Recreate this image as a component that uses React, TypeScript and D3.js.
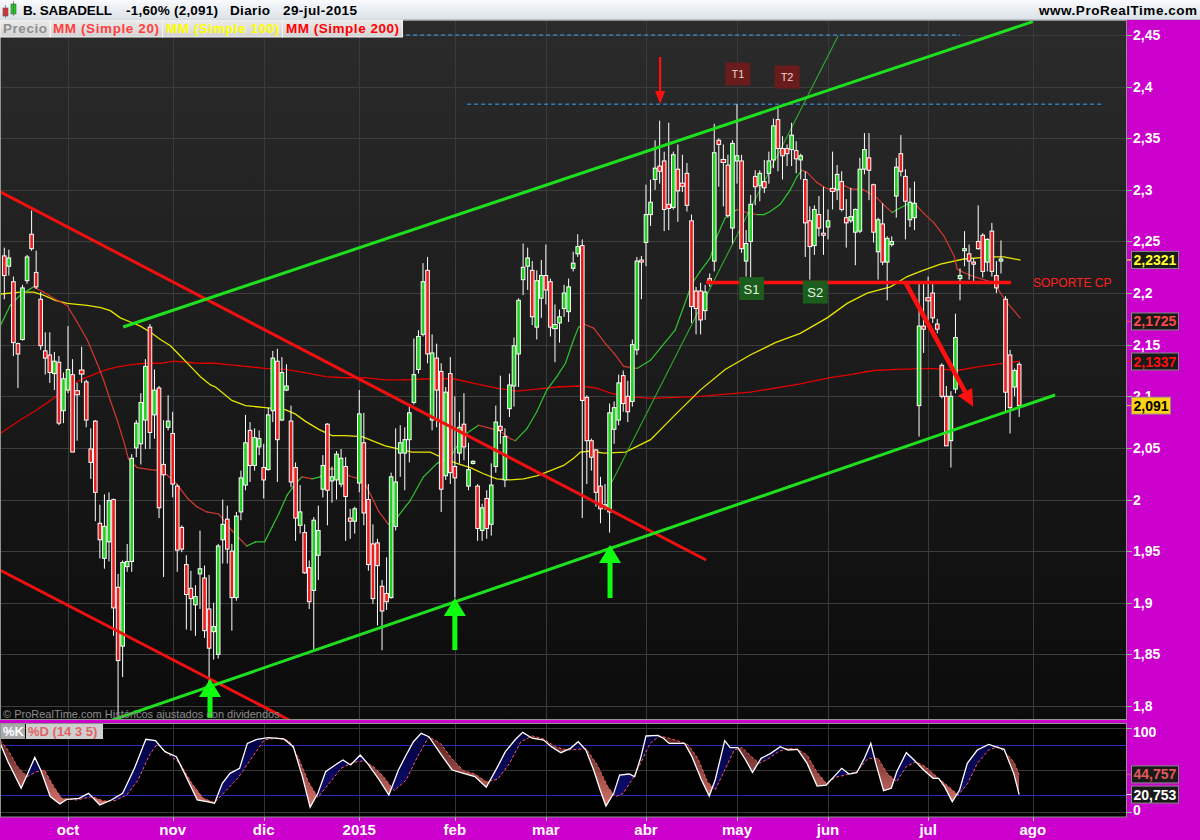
import React from 'react';
import * as d3 from 'd3';

// ---------- calendar ----------
const START_DATE = '2014-09-11';
const MARKET_HOLIDAYS = ['2014-12-25', '2014-12-26', '2015-01-01', '2015-04-03', '2015-04-06', '2015-05-01'];
const CANDLE_COUNT = 224;
const FUTURE_DAYS = 3;
const MONTH_NAMES = ['ene', 'feb', 'mar', 'abr', 'may', 'jun', 'jul', 'ago', 'sep', 'oct', 'nov', 'dic'];

// ---------- price data (B. Sabadell, daily) ----------
const OPEN = [
  2.236, 2.226, 2.211, 2.151, 2.155, 2.212, 2.257, 2.220, 2.194, 2.144,
  2.140, 2.122, 2.133, 2.086, 2.106, 2.121, 2.104, 2.124, 2.114, 2.049,
  2.076, 1.977, 1.943, 1.959, 2.000, 1.915, 1.858, 1.935, 1.940, 2.050,
  2.054, 2.077, 2.167, 2.082, 2.108, 2.034, 2.070, 2.064, 2.013, 1.973,
  1.937, 1.914, 1.898, 1.928, 1.924, 1.894, 1.872, 1.850, 1.961, 1.981,
  1.950, 1.905, 1.988, 2.014, 2.067, 2.033, 2.051, 2.031, 2.029, 2.086,
  2.134, 2.077, 2.106, 2.076, 2.031, 1.975, 1.968, 1.934, 1.912, 1.946,
  2.010, 2.073, 2.018, 2.019, 2.015, 2.032, 1.982, 1.979, 2.016, 2.055,
  2.000, 1.957, 1.958, 1.916, 1.909, 1.905, 1.974, 2.045, 2.045, 2.058,
  2.094, 2.126, 2.160, 2.222, 2.077, 2.137, 2.124, 2.023, 2.122, 2.032,
  2.045, 2.073, 2.013, 2.035, 2.013, 1.970, 2.001, 1.976, 2.032, 2.071,
  2.019, 2.088, 2.110, 2.141, 2.213, 2.226, 2.222, 2.167, 2.195, 2.217,
  2.211, 2.167, 2.171, 2.185, 2.182, 2.224, 2.238, 2.246, 2.099, 2.057,
  2.048, 2.013, 1.993, 1.988, 2.068, 2.077, 2.120, 2.100, 2.095, 2.145,
  2.232, 2.249, 2.276, 2.310, 2.323, 2.328, 2.286, 2.283, 2.320, 2.305,
  2.316, 2.270, 2.202, 2.202, 2.183, 2.214, 2.231, 2.348, 2.328, 2.324,
  2.263, 2.328, 2.328, 2.231, 2.250, 2.313, 2.304, 2.308, 2.316, 2.329,
  2.368, 2.340, 2.340, 2.339, 2.338, 2.329, 2.310, 2.270, 2.246, 2.276,
  2.258, 2.264, 2.300, 2.300, 2.308, 2.273, 2.270, 2.259, 2.260, 2.320,
  2.331, 2.305, 2.240, 2.267, 2.230, 2.247, 2.294, 2.335, 2.313, 2.271,
  2.273, 2.091, 2.168, 2.194, 2.200, 2.170, 2.130, 2.100, 2.057, 2.107,
  2.214, 2.241, 2.238, 2.230, 2.250, 2.256, 2.230, 2.260, 2.217, 2.231,
  2.194, 2.140, 2.109, 2.131,
];
const HIGH = [
  2.244, 2.242, 2.216, 2.152, 2.208, 2.237, 2.280, 2.241, 2.201, 2.162,
  2.162, 2.143, 2.139, 2.123, 2.168, 2.136, 2.113, 2.148, 2.116, 2.069,
  2.077, 1.995, 2.005, 2.007, 2.001, 1.928, 1.941, 1.957, 2.044, 2.077,
  2.103, 2.136, 2.170, 2.126, 2.110, 2.077, 2.101, 2.085, 2.015, 1.975,
  1.946, 1.931, 1.917, 1.970, 1.936, 1.927, 1.900, 1.957, 2.000, 1.994,
  1.957, 1.988, 2.028, 2.082, 2.075, 2.069, 2.067, 2.054, 2.089, 2.144,
  2.146, 2.138, 2.131, 2.091, 2.036, 2.014, 1.976, 1.941, 1.983, 1.994,
  2.043, 2.074, 2.032, 2.047, 2.049, 2.041, 1.991, 1.993, 2.106, 2.084,
  2.015, 1.976, 1.962, 1.922, 1.944, 2.026, 2.069, 2.072, 2.070, 2.091,
  2.156, 2.164, 2.229, 2.235, 2.160, 2.151, 2.132, 2.109, 2.138, 2.100,
  2.085, 2.103, 2.055, 2.038, 2.015, 1.996, 2.009, 2.035, 2.091, 2.120,
  2.069, 2.122, 2.157, 2.195, 2.248, 2.244, 2.231, 2.222, 2.232, 2.247,
  2.214, 2.189, 2.184, 2.208, 2.214, 2.240, 2.257, 2.252, 2.101, 2.059,
  2.049, 2.022, 2.015, 2.093, 2.095, 2.121, 2.125, 2.115, 2.155, 2.235,
  2.236, 2.305, 2.310, 2.348, 2.367, 2.337, 2.365, 2.337, 2.344, 2.334,
  2.326, 2.276, 2.206, 2.210, 2.208, 2.219, 2.364, 2.350, 2.344, 2.334,
  2.348, 2.383, 2.334, 2.261, 2.295, 2.319, 2.319, 2.329, 2.337, 2.369,
  2.379, 2.352, 2.344, 2.365, 2.347, 2.335, 2.318, 2.284, 2.285, 2.294,
  2.303, 2.281, 2.337, 2.324, 2.318, 2.291, 2.302, 2.282, 2.331, 2.355,
  2.355, 2.306, 2.273, 2.287, 2.255, 2.255, 2.331, 2.353, 2.320, 2.302,
  2.308, 2.210, 2.210, 2.216, 2.209, 2.175, 2.132, 2.110, 2.105, 2.180,
  2.224, 2.260, 2.247, 2.234, 2.285, 2.258, 2.253, 2.268, 2.231, 2.251,
  2.197, 2.145, 2.127, 2.133,
];
const LOW = [
  2.194, 2.217, 2.139, 2.108, 2.154, 2.209, 2.241, 2.204, 2.145, 2.121,
  2.113, 2.106, 2.072, 2.074, 2.103, 2.046, 2.057, 2.113, 2.070, 2.020,
  1.979, 1.943, 1.933, 1.940, 1.868, 1.789, 1.828, 1.930, 1.930, 2.041,
  2.034, 2.049, 2.049, 2.059, 1.982, 1.925, 2.067, 2.002, 1.930, 1.949,
  1.874, 1.873, 1.868, 1.894, 1.866, 1.822, 1.845, 1.846, 1.938, 1.938,
  1.873, 1.902, 1.980, 2.009, 2.017, 2.028, 2.043, 2.001, 2.028, 2.075,
  2.017, 2.076, 2.105, 2.012, 1.960, 1.967, 1.928, 1.894, 1.855, 1.922,
  2.002, 1.975, 1.997, 2.000, 2.012, 1.960, 1.962, 1.967, 2.007, 1.975,
  1.931, 1.899, 1.878, 1.854, 1.893, 1.904, 1.970, 2.022, 2.009, 2.036,
  2.092, 2.122, 2.158, 2.132, 2.067, 2.070, 1.988, 2.019, 2.015, 1.905,
  2.035, 2.038, 2.009, 2.034, 1.960, 1.960, 1.962, 1.965, 2.026, 2.054,
  2.012, 2.080, 2.090, 2.109, 2.198, 2.203, 2.169, 2.155, 2.176, 2.189,
  2.158, 2.133, 2.152, 2.177, 2.172, 2.221, 2.235, 1.982, 2.015, 2.028,
  1.993, 1.977, 1.990, 1.968, 2.054, 2.072, 2.085, 2.075, 2.090, 2.140,
  2.194, 2.226, 2.265, 2.300, 2.306, 2.260, 2.261, 2.281, 2.269, 2.298,
  2.279, 2.171, 2.160, 2.160, 2.174, 2.206, 2.221, 2.303, 2.284, 2.273,
  2.248, 2.306, 2.239, 2.216, 2.213, 2.285, 2.289, 2.297, 2.306, 2.321,
  2.318, 2.310, 2.323, 2.323, 2.316, 2.310, 2.235, 2.213, 2.237, 2.255,
  2.237, 2.252, 2.281, 2.290, 2.279, 2.244, 2.268, 2.227, 2.258, 2.315,
  2.290, 2.249, 2.213, 2.227, 2.193, 2.245, 2.273, 2.313, 2.252, 2.264,
  2.261, 2.061, 2.142, 2.172, 2.171, 2.161, 2.098, 2.052, 2.031, 2.103,
  2.193, 2.226, 2.213, 2.211, 2.242, 2.215, 2.221, 2.216, 2.200, 2.219,
  2.084, 2.064, 2.100, 2.080,
];
const CLOSE = [
  2.217, 2.234, 2.152, 2.141, 2.205, 2.235, 2.243, 2.206, 2.149, 2.137,
  2.123, 2.134, 2.074, 2.117, 2.126, 2.046, 2.103, 2.123, 2.077, 2.036,
  2.007, 1.961, 1.974, 1.999, 1.895, 1.844, 1.939, 1.940, 2.040, 2.074,
  2.094, 2.129, 2.065, 2.106, 1.992, 2.024, 2.076, 2.015, 1.951, 1.952,
  1.908, 1.904, 1.906, 1.933, 1.873, 1.856, 1.877, 1.955, 1.976, 1.952,
  1.905, 1.984, 2.021, 2.055, 2.033, 2.060, 2.059, 2.019, 2.082, 2.137,
  2.058, 2.123, 2.110, 2.017, 1.982, 1.988, 1.929, 1.901, 1.980, 1.970,
  2.033, 2.009, 2.022, 2.044, 2.040, 2.003, 1.979, 1.991, 2.083, 1.987,
  1.937, 1.904, 1.936, 1.892, 1.901, 2.022, 2.017, 2.055, 2.058, 2.084,
  2.121, 2.158, 2.211, 2.141, 2.142, 2.106, 2.010, 2.104, 2.026, 2.021,
  2.070, 2.051, 2.029, 2.037, 1.972, 1.992, 1.972, 2.014, 2.075, 2.067,
  2.061, 2.111, 2.149, 2.193, 2.225, 2.234, 2.177, 2.212, 2.217, 2.203,
  2.167, 2.168, 2.177, 2.200, 2.206, 2.229, 2.245, 2.096, 2.057, 2.041,
  2.007, 1.991, 1.995, 2.084, 2.089, 2.113, 2.093, 2.085, 2.150, 2.231,
  2.230, 2.276, 2.288, 2.321, 2.318, 2.281, 2.282, 2.334, 2.299, 2.305,
  2.285, 2.187, 2.185, 2.174, 2.201, 2.210, 2.336, 2.344, 2.328, 2.275,
  2.345, 2.333, 2.243, 2.248, 2.286, 2.303, 2.316, 2.302, 2.328, 2.362,
  2.340, 2.333, 2.335, 2.353, 2.330, 2.333, 2.268, 2.245, 2.281, 2.263,
  2.256, 2.270, 2.300, 2.315, 2.281, 2.268, 2.274, 2.281, 2.320, 2.339,
  2.319, 2.259, 2.271, 2.230, 2.253, 2.250, 2.322, 2.318, 2.289, 2.288,
  2.287, 2.168, 2.165, 2.194, 2.176, 2.165, 2.100, 2.052, 2.100, 2.157,
  2.217, 2.243, 2.231, 2.228, 2.243, 2.221, 2.252, 2.221, 2.205, 2.233,
  2.104, 2.089, 2.125, 2.091,
];

// ---------- moving averages (candle number, value) ----------
const MA20_N = [0.1, 2.3, 4.5, 7.4, 9.6, 12.2, 14.8, 17, 19.2, 21.4, 22.8, 24.3, 25.8, 27.2, 28.3, 30.2, 33.1, 35.3, 36.7, 38.9, 41.1, 43.3, 45.5, 48.1, 51, 53.2, 54.3, 56.2, 58.2, 59.8, 61.3, 63.1, 64.9, 66.4, 68.6, 70.4, 71.5, 73, 75.2, 76.7, 78.9, 80.3, 81.8, 83.2, 85.4, 86.9, 89.1, 90.2, 93.1, 96.1, 99, 101.9, 105.2, 107.8, 110, 112.2, 113.3, 115.9, 118, 120.2, 122.4, 124.3, 126.1, 127.2, 128.3, 130.5, 133.1, 134.9, 137.1, 140, 143, 148.4, 152.1, 153.9, 156.1, 157.6, 159.4, 162, 164.2, 166.4, 167.9, 169.3, 171.5, 173.7, 175.2, 176.3, 177.4, 179.6, 181.4, 183.2, 184.7, 186.9, 189.8, 192.8, 194.6, 196.1, 197.2, 199.4, 201.2, 203.1, 205.3, 207.5, 209.7, 210.4, 211.8, 214, 216.2, 218.4, 219.9, 221.3, 224.2];
const MA20_V = [2.168, 2.188, 2.198, 2.206, 2.201, 2.194, 2.188, 2.172, 2.155, 2.132, 2.116, 2.096, 2.077, 2.057, 2.039, 2.031, 2.029, 2.028, 2.024, 2.015, 2.002, 1.993, 1.988, 1.986, 1.970, 1.960, 1.955, 1.959, 1.959, 1.973, 1.986, 2.004, 2.015, 2.022, 2.020, 2.022, 2.028, 2.030, 2.028, 2.023, 2.020, 2.015, 2.002, 1.989, 1.976, 1.980, 1.993, 1.999, 2.022, 2.035, 2.041, 2.062, 2.072, 2.069, 2.066, 2.059, 2.057, 2.069, 2.085, 2.106, 2.119, 2.132, 2.155, 2.167, 2.170, 2.166, 2.151, 2.142, 2.129, 2.127, 2.135, 2.164, 2.209, 2.221, 2.234, 2.255, 2.273, 2.281, 2.278, 2.276, 2.276, 2.279, 2.286, 2.300, 2.313, 2.319, 2.317, 2.307, 2.302, 2.299, 2.306, 2.301, 2.300, 2.292, 2.284, 2.278, 2.281, 2.286, 2.286, 2.277, 2.268, 2.255, 2.236, 2.223, 2.220, 2.216, 2.213, 2.210, 2.200, 2.191, 2.176];
const MA100_N = [0.1, 4.5, 7.4, 9.6, 12.2, 14.8, 19.2, 22.2, 24.3, 26.5, 28.7, 30.9, 33.1, 35.3, 37.5, 39.7, 41.9, 44.1, 46.3, 47.4, 51, 54, 58.3, 62.7, 64.9, 67.1, 70.1, 73, 75.9, 79.6, 81.8, 84.7, 87.6, 90.6, 94.6, 97.5, 100.4, 103.4, 106.3, 109.2, 112.2, 115.1, 118, 121, 123.9, 126.1, 127.6, 129.8, 132.7, 137.5, 143, 148.4, 153.9, 159.4, 164.9, 170.4, 175.9, 181.8, 186.2, 190.6, 195.7, 199.4, 202.3, 206.7, 211.8, 217.7, 220.6, 224.3];
const MA100_V = [2.199, 2.201, 2.201, 2.198, 2.193, 2.190, 2.188, 2.186, 2.183, 2.176, 2.172, 2.168, 2.162, 2.155, 2.149, 2.139, 2.129, 2.119, 2.111, 2.109, 2.096, 2.091, 2.089, 2.087, 2.083, 2.076, 2.068, 2.062, 2.062, 2.061, 2.057, 2.052, 2.049, 2.046, 2.046, 2.040, 2.035, 2.031, 2.025, 2.020, 2.019, 2.020, 2.023, 2.028, 2.033, 2.040, 2.046, 2.047, 2.045, 2.046, 2.058, 2.082, 2.106, 2.126, 2.140, 2.152, 2.161, 2.176, 2.190, 2.200, 2.206, 2.216, 2.221, 2.228, 2.233, 2.235, 2.235, 2.232];
const MA200_N = [0.1, 4.5, 8.2, 11.8, 14.8, 17.7, 20.6, 23.6, 26.5, 29.4, 32.4, 35.3, 38.2, 41.1, 44.1, 47.4, 49.6, 54, 58.3, 62.7, 67.1, 71.5, 75.9, 80.3, 84.7, 89.1, 94.6, 99.7, 104.8, 109.2, 113.6, 118, 122.4, 127.6, 131.2, 134.2, 137.5, 143, 153.9, 164.9, 175.9, 182.5, 186.9, 192, 197.2, 204.5, 210.4, 215.5, 220.6, 224.2];
const MA200_V = [2.064, 2.077, 2.087, 2.098, 2.108, 2.116, 2.121, 2.126, 2.129, 2.131, 2.132, 2.132, 2.134, 2.133, 2.132, 2.132, 2.131, 2.129, 2.127, 2.126, 2.123, 2.119, 2.118, 2.118, 2.116, 2.116, 2.117, 2.117, 2.112, 2.108, 2.105, 2.107, 2.109, 2.110, 2.108, 2.103, 2.100, 2.098, 2.100, 2.104, 2.112, 2.118, 2.121, 2.125, 2.126, 2.127, 2.125, 2.129, 2.132, 2.134];

// ---------- stochastic %K %D (14 3 5) ----------
const STOCH_K_N = [0.1, 1.8, 4.7, 6.0, 7.7, 9.0, 11.1, 13.2, 14.8, 17.4, 19.5, 22, 24.5, 27, 29.6, 32.1, 34.2, 36.3, 38.8, 41.3, 43.4, 45.5, 47.2, 48.9, 50.6, 52.7, 54.4, 56.5, 59, 62.4, 64.5, 66.5, 68.2, 69.9, 71.6, 73.7, 75.4, 77.1, 79.2, 80.8, 83.4, 85.5, 87.6, 89.3, 90.9, 92.6, 94.3, 96.8, 99.4, 101.9, 104.4, 106.9, 109.4, 111.1, 113.2, 114.9, 117, 119.5, 121.2, 123.3, 125.4, 127.1, 128.8, 130.5, 132, 133.2, 134.9, 136.2, 138.3, 139.5, 140.8, 142, 144.6, 145.8, 147.1, 150.5, 152.1, 154.2, 155.9, 157.2, 159.3, 160.5, 162.2, 163.9, 165.4, 167.3, 169.4, 171.5, 173.2, 175.3, 177.4, 179.6, 181.6, 183.3, 185, 186.6, 188.3, 190, 191.4, 192.5, 194.2, 195.9, 197.1, 199.2, 200.9, 203, 205.1, 206.3, 207.6, 209.3, 210.9, 212.6, 214.8, 217.3, 219.4, 220.7, 222.8, 224];
const STOCH_K_V = [81.7, 59.9, 28.2, 44, 65, 50, 18.3, 9.5, 15.1, 16.3, 22.2, 8.3, 14.3, 22.2, 52, 86.5, 84.9, 71.8, 65.9, 38.1, 14.3, 12.3, 10.3, 34.1, 46, 52, 81.7, 86.5, 88.5, 87, 77.8, 42.1, 5.6, 22.2, 48, 56, 61.9, 56, 67.9, 57.9, 38.1, 20.2, 50, 67.9, 83.7, 93.7, 89.7, 69.8, 50, 46, 42.1, 29.4, 54, 71.8, 85.7, 94.8, 87.8, 85.7, 77.8, 70.6, 75.8, 83.7, 73.8, 50, 25, 7.1, 22.2, 44, 45.2, 42.1, 63.9, 90.5, 91.3, 87.8, 81.7, 81.7, 65.9, 38.1, 19, 38.1, 84.9, 76.6, 76.6, 61.9, 47.2, 63.9, 69.8, 77.8, 73.8, 74.6, 57.9, 30.9, 32.1, 42.1, 52, 45.2, 46.8, 63.9, 81.7, 57.9, 25.4, 28.2, 48, 70.6, 61.9, 50, 40.1, 40.1, 30.2, 12.3, 26.2, 57.9, 73.8, 80.5, 76.6, 74.6, 46, 20.753];
const STOCH_D_N = [0.1, 1.8, 3.9, 6, 8.1, 9.8, 11.9, 13.6, 16.9, 20.3, 22.8, 25.3, 27.9, 30.4, 32.9, 34.6, 37.1, 39.6, 42.2, 44.7, 47.2, 49.7, 52.3, 54.8, 58.1, 60.7, 63.6, 65.7, 67.8, 69.9, 72.4, 75, 77.5, 80, 82.1, 84.2, 86.7, 89.3, 91.8, 94.3, 96.8, 99.3, 101.9, 104.4, 106.9, 109.4, 112, 114.5, 117, 119.5, 122.1, 124.6, 127.1, 128.8, 131.3, 133.6, 135.3, 137, 139.1, 140.8, 142.9, 145, 147.1, 149.6, 151.3, 153.4, 155.5, 157.2, 159.3, 161.4, 163.1, 165.2, 166.9, 169, 171.1, 173.2, 175.3, 177.4, 179.5, 181.6, 183.7, 185.8, 188.3, 190.8, 193, 195, 197.1, 199.2, 201.3, 203.4, 206, 208.5, 210.6, 212.7, 214.8, 217.3, 219.4, 221.1, 222.8, 224];
const STOCH_D_V = [85, 73.8, 54, 42.1, 48, 50, 30.2, 16.3, 14.3, 18.3, 13.1, 13.5, 20.2, 38.1, 67.9, 81, 69, 57.9, 34.1, 16.3, 11.1, 25.4, 40.1, 59.9, 85.7, 88.1, 84.9, 63.9, 36.1, 17.5, 34.1, 52, 58.7, 61.1, 54, 42.9, 25.4, 38.1, 65.9, 89.7, 81.7, 63.9, 49.2, 45.2, 36.1, 38.9, 57.9, 83.7, 90.5, 87, 77.8, 73.8, 74.6, 75.8, 56, 30.2, 18.3, 22.2, 40.1, 57.9, 81.7, 90.5, 87.8, 83.7, 79.8, 63.9, 36.1, 26.2, 50, 73.8, 76.6, 65.9, 57.9, 63.9, 71.8, 75.8, 74.6, 67.9, 48, 34.1, 41.3, 44, 48, 63.9, 63.9, 46, 36.1, 54, 59.9, 54, 41.3, 30.2, 20.2, 34.1, 57.9, 73.8, 77.8, 69.8, 59.9, 44.757];

// ---------- axis / labels ----------
const PRICE_TICKS = [1.8, 1.85, 1.9, 1.95, 2.0, 2.05, 2.1, 2.15, 2.2, 2.25, 2.3, 2.35, 2.4, 2.45];
const LAST_PRICE_LABELS = [
  { text: '2,2321', value: 2.2321, color: '#ffff33', bg: '#1a1a1a', w: 47 },
  { text: '2,1725', value: 2.1725, color: '#ff4a4a', bg: '#1a1a1a', w: 47 },
  { text: '2,1337', value: 2.1337, color: '#ff1010', bg: '#1a1a1a', w: 47 },
  { text: '2,091', value: 2.091, color: '#000000', bg: '#ffd21a', w: 39 },
];
const LAST_STOCH_LABELS = [
  { text: '44,757', value: 44.757, color: '#e05a5a', bg: '#1a1a1a', w: 47 },
  { text: '20,753', value: 20.753, color: '#ffffff', bg: '#1a1a1a', w: 47 },
];
const HEADER_TEXTS = [
  { text: 'B. SABADELL', x: 23, w: 89 },
  { text: '-1,60% (2,091)', x: 126, w: 92 },
  { text: 'Diario', x: 230, w: 40 },
  { text: '29-jul-2015', x: 283, w: 74 },
];
const LEGEND_ITEMS = [
  { text: 'Precio', x: 3, w: 44, color: '#8e8e8e', bx: 0, bw: 50 },
  { text: 'MM (Simple 20)', x: 53, w: 106, color: '#ff4040', bx: 50.5, bw: 112 },
  { text: 'MM (Simple 100)', x: 166, w: 113, color: '#ffff00', bx: 162.5, bw: 120 },
  { text: 'MM (Simple 200)', x: 286, w: 113, color: '#ff0000', bx: 282.5, bw: 120 },
];

// annotations: [candle index (0-based), price]
const TREND_UP_MAIN = [[26.1, 2.1671], [226, 2.463]];
const TREND_UP_LOW = [[23.7, 1.7863], [230.9, 2.1013]];
const TREND_DOWN_HIGH = [[-0.95, 2.2982], [154.2, 1.9414]];
const TREND_DOWN_LOW = [[-0.95, 1.9317], [62.6, 1.7864]];
const TREND_STEEP = [[133.5, 2.017], [183.2, 2.449]];
const DASH_TOP = [[36, 2.45], [210, 2.45]];
const DASH_T = [[101.7, 2.383], [241.2, 2.383]];
const SUPPORT = [[154.2, 2.2102], [221.2, 2.2102]];
const DIAG_ARROW = [[198.1, 2.2097], [212.9, 2.0898]];
const DOWN_ARROW = { i: 144.1, from: 2.4287, to: 2.3832 };
const UP_ARROWS = [
  { i: 45.2, tip: 1.8262, base: 1.7884 },
  { i: 99.0, tip: 1.9046, base: 1.8542 },
  { i: 133.1, tip: 1.956, base: 1.9046 },
];
const TAGS = [
  { text: 'T1', i: 161.2, p: 2.4122, kind: 'T' },
  { text: 'T2', i: 172.0, p: 2.4093, kind: 'T' },
  { text: 'S1', i: 164.2, p: 2.2044, kind: 'S' },
  { text: 'S2', i: 178.2, p: 2.201, kind: 'S' },
];

const FONT = "'Liberation Sans', Arial, sans-serif";

function buildTradingDays(start: string, count: number): Date[] {
  const out: Date[] = [];
  const d = new Date(start + 'T12:00:00Z');
  while (out.length < count) {
    const wd = d.getUTCDay();
    const iso = d.toISOString().slice(0, 10);
    if (wd !== 0 && wd !== 6 && !MARKET_HOLIDAYS.includes(iso)) out.push(new Date(d.getTime()));
    d.setUTCDate(d.getUTCDate() + 1);
  }
  return out;
}

const fmtTick = (v: number) => String(+v.toFixed(2)).replace('.', ',');

export default function App() {
  const W = 1200, H = 840;
  const PLOT_R = 1126;
  const MAIN_TOP = 20, MAIN_BOT = 720;
  const STO_TOP = 723, STO_BOT = 817;

  const dates = buildTradingDays(START_DATE, CANDLE_COUNT + FUTURE_DAYS);
  const lastIdx = dates.length - 1;
  const x = d3.scaleLinear().domain([0, lastIdx]).range([4.3, 4.3 + lastIdx * 4.551]);
  const y = d3.scaleLinear().domain([1.8, 2.45]).range([706, 35]);
  const ys = d3.scaleLinear().domain([0, 100]).range([812, 728]);

  const monthTicks: { i: number; label: string }[] = [];
  for (let i = 1; i < dates.length; i++) {
    if (dates[i].getUTCMonth() !== dates[i - 1].getUTCMonth()) {
      const m = dates[i].getUTCMonth();
      monthTicks.push({ i, label: m === 0 ? String(dates[i].getUTCFullYear()) : MONTH_NAMES[m] });
    }
  }

  const candles = d3.range(CANDLE_COUNT).map((i) => ({ i, o: OPEN[i], h: HIGH[i], l: LOW[i], c: CLOSE[i] }));

  const lineGen = d3.line<[number, number]>().x((d) => x(d[0] - 1)).y((d) => y(d[1]));
  const ma100Path = lineGen(MA100_N.map((n, k) => [n, MA100_V[k]] as [number, number])) || '';
  const ma200Path = lineGen(MA200_N.map((n, k) => [n, MA200_V[k]] as [number, number])) || '';
  const ma20Segs = MA20_N.slice(1).map((n, k) => ({
    x1: x(MA20_N[k] - 1), y1: y(MA20_V[k]), x2: x(n - 1), y2: y(MA20_V[k + 1]),
    up: MA20_V[k + 1] >= MA20_V[k],
  }));

  const kPts = STOCH_K_N.map((n, k) => [x(n - 1), ys(STOCH_K_V[k])] as [number, number]);
  const dPts = STOCH_D_N.map((n, k) => [x(n - 1), ys(STOCH_D_V[k])] as [number, number]);
  const areaBelow = d3.area<[number, number]>().x((d) => d[0]).y0(STO_BOT + 5).y1((d) => d[1]);
  const areaAbove = d3.area<[number, number]>().x((d) => d[0]).y0(STO_TOP - 5).y1((d) => d[1]);
  const sLine = d3.line<[number, number]>().x((d) => d[0]).y((d) => d[1]);

  const seg = (pts: number[][]) => ({ x1: x(pts[0][0]), y1: y(pts[0][1]), x2: x(pts[1][0]), y2: y(pts[1][1]) });

  const da = seg(DIAG_ARROW);
  const ang = Math.atan2(da.y2 - da.y1, da.x2 - da.x1);
  const headL = 17, headW = 8;
  const bx = da.x2 - headL * Math.cos(ang), by = da.y2 - headL * Math.sin(ang);
  const diagHead = `M${da.x2},${da.y2} L${bx + headW * Math.sin(ang)},${by - headW * Math.cos(ang)} L${bx - headW * Math.sin(ang)},${by + headW * Math.cos(ang)} Z`;

  const bodyW = 3.6;

  return (
    <svg width={W} height={H} style={{ position: 'absolute', left: 0, top: 0, display: 'block' }} fontFamily={FONT}>
      <defs>
        <linearGradient id="hdr" x1="0" y1="0" x2="0" y2="1">
          <stop offset="0" stopColor="#f8fafc" />
          <stop offset="1" stopColor="#dae1e7" />
        </linearGradient>
        <linearGradient id="mainBg" x1="0" y1="0" x2="0" y2="1">
          <stop offset="0" stopColor="#2b2b2b" />
          <stop offset="1" stopColor="#0b0b0b" />
        </linearGradient>
        <linearGradient id="legBg" x1="0" y1="0" x2="0" y2="1">
          <stop offset="0" stopColor="#ececec" />
          <stop offset="1" stopColor="#d2d2d2" />
        </linearGradient>
        <linearGradient id="redFill" gradientUnits="userSpaceOnUse" x1="0" y1={STO_TOP + 5} x2="0" y2={STO_BOT - 5}>
          <stop offset="0" stopColor="#3e1414" />
          <stop offset="1" stopColor="#e07a72" />
        </linearGradient>
        <linearGradient id="blueFill" gradientUnits="userSpaceOnUse" x1="0" y1={STO_TOP + 5} x2="0" y2={STO_BOT - 5}>
          <stop offset="0" stopColor="#00003e" />
          <stop offset="1" stopColor="#101078" />
        </linearGradient>
        <clipPath id="mainClip"><rect x={1} y={MAIN_TOP} width={PLOT_R - 1} height={MAIN_BOT - MAIN_TOP} /></clipPath>
        <clipPath id="stoClip"><rect x={1} y={STO_TOP} width={PLOT_R - 1} height={STO_BOT - STO_TOP} /></clipPath>
        <clipPath id="belowK"><path d={areaBelow(kPts) || ''} /></clipPath>
        <clipPath id="aboveK"><path d={areaAbove(kPts) || ''} /></clipPath>
        <clipPath id="belowD"><path d={areaBelow(dPts) || ''} /></clipPath>
        <clipPath id="aboveD"><path d={areaAbove(dPts) || ''} /></clipPath>
        <clipPath id="tickClip21"><rect x={1127} y={0} width={73} height={y(2.091) - 8.5} /></clipPath>
      </defs>

      {/* backgrounds */}
      <rect x={0} y={0} width={W} height={H} fill="#cc00cc" />
      <rect x={0} y={MAIN_TOP} width={PLOT_R} height={MAIN_BOT - MAIN_TOP} fill="url(#mainBg)" />
      <rect x={0} y={STO_TOP} width={PLOT_R} height={STO_BOT - STO_TOP} fill="#000" />

      {/* grid */}
      {PRICE_TICKS.map((p) => (
        <line key={'hg' + p} x1={0} x2={PLOT_R} y1={Math.round(y(p)) + 0.5} y2={Math.round(y(p)) + 0.5} stroke="#3d3d3d" strokeWidth={1} />
      ))}
      {monthTicks.map((t) => (
        <g key={'vg' + t.i}>
          <line x1={Math.round(x(t.i)) + 0.5} x2={Math.round(x(t.i)) + 0.5} y1={MAIN_TOP} y2={MAIN_BOT} stroke="#3a3a3a" />
          <line x1={Math.round(x(t.i)) + 0.5} x2={Math.round(x(t.i)) + 0.5} y1={STO_TOP} y2={STO_BOT} stroke="#333" />
        </g>
      ))}
      {[100, 50, 0].map((v) => (
        <line key={'sg' + v} x1={0} x2={PLOT_R} y1={Math.round(ys(v)) + 0.5} y2={Math.round(ys(v)) + 0.5} stroke="#3a3a3a" />
      ))}
      {[80, 20].map((v) => (
        <line key={'sb' + v} x1={0} x2={PLOT_R} y1={Math.round(ys(v)) + 0.5} y2={Math.round(ys(v)) + 0.5} stroke="#2b2bc0" strokeWidth={1.2} />
      ))}

      {/* main chart content */}
      <g clipPath="url(#mainClip)">
        <line {...seg(DASH_TOP)} stroke="#36a8ff" strokeWidth={1} strokeDasharray="4,3" />
        <line {...seg(DASH_T)} stroke="#36a8ff" strokeWidth={1} strokeDasharray="4,3" />
        <path d={ma200Path} fill="none" stroke="#e00000" strokeWidth={1.3} />
        <path d={ma100Path} fill="none" stroke="#e6e600" strokeWidth={1.3} />
        {ma20Segs.map((s, k) => (
          <line key={'m20' + k} x1={s.x1} y1={s.y1} x2={s.x2} y2={s.y2} stroke={s.up ? '#2fc42f' : '#d23a30'} strokeWidth={1.2} strokeLinecap="round" />
        ))}
        <line {...seg(TREND_STEEP)} stroke="#2faa2f" strokeWidth={1.1} />
        {candles.map((c) => {
          const cx = x(c.i);
          const top = y(Math.max(c.o, c.c));
          const bot = y(Math.min(c.o, c.c));
          const doji = Math.abs(c.o - c.c) < 0.0015;
          const fill = c.c > c.o ? '#1fd11f' : '#e81d1d';
          return (
            <g key={'c' + c.i}>
              <line x1={cx} x2={cx} y1={y(c.h)} y2={y(c.l)} stroke="#ffffff" strokeWidth={1} />
              {doji ? (
                <rect x={cx - bodyW / 2 - 0.5} y={top - 1.5} width={bodyW + 1} height={Math.max(3, bot - top + 3)} fill={fill} stroke="#fff" strokeWidth={1} />
              ) : (
                <rect x={cx - bodyW / 2} y={top} width={bodyW} height={Math.max(1, bot - top)} fill={fill} stroke="#ffffff" strokeWidth={1} />
              )}
            </g>
          );
        })}
        <line {...seg(TREND_DOWN_HIGH)} stroke="#f01010" strokeWidth={3} />
        <line {...seg(TREND_DOWN_LOW)} stroke="#f01010" strokeWidth={3} />
        <line {...seg(TREND_UP_MAIN)} stroke="#1ee01e" strokeWidth={3} />
        <line {...seg(TREND_UP_LOW)} stroke="#1ee01e" strokeWidth={3} />
        <line {...seg(SUPPORT)} stroke="#ff1010" strokeWidth={3.5} />
        <line x1={da.x1} y1={da.y1} x2={bx} y2={by} stroke="#ff1010" strokeWidth={4.5} />
        <path d={diagHead} fill="#ff1010" />
        {(() => {
          const ax = x(DOWN_ARROW.i), y0 = y(DOWN_ARROW.from), y1 = y(DOWN_ARROW.to);
          return (
            <g>
              <line x1={ax} x2={ax} y1={y0} y2={y1 - 10} stroke="#ff1010" strokeWidth={2.2} />
              <path d={`M${ax},${y1} L${ax - 5},${y1 - 13} L${ax + 5},${y1 - 13} Z`} fill="#ff1010" />
            </g>
          );
        })()}
        {UP_ARROWS.map((a, k) => {
          const ax = x(a.i), ty = y(a.tip), byy = y(a.base);
          return (
            <g key={'ua' + k}>
              <rect x={ax - 2.5} y={ty + 14} width={5} height={byy - ty - 14} fill="#10ff10" />
              <path d={`M${ax},${ty} L${ax - 11},${ty + 18} L${ax + 11},${ty + 18} Z`} fill="#10ff10" />
            </g>
          );
        })}
        {TAGS.map((t) => {
          const cx = x(t.i), cy = y(t.p);
          const isT = t.kind === 'T';
          return (
            <g key={t.text}>
              <rect x={cx - 12.5} y={cy - 11.5} width={25} height={23} fill={isT ? '#6a1c1c' : '#1c5c1c'} />
              <text x={cx} y={cy + (isT ? 4 : 5)} textAnchor="middle" fontSize={isT ? 11 : 13} fill={isT ? '#f0d0d0' : '#e0f4e0'}>{t.text}</text>
            </g>
          );
        })}
        <text x={x(SUPPORT[1][0]) + 22} y={y(SUPPORT[0][1]) + 4.5} fontSize={12} fill="#ff2020">SOPORTE CP</text>
        <text x={3} y={718} fontSize={11} fill="#8a8a8a">© ProRealTime.com  Históricos ajustados con dividendos</text>
      </g>

      {/* stochastic */}
      <g clipPath="url(#stoClip)">
        <g clipPath="url(#belowK)">
          <rect x={0} y={STO_TOP} width={PLOT_R} height={STO_BOT - STO_TOP} fill="url(#blueFill)" clipPath="url(#aboveD)" />
        </g>
        <g clipPath="url(#belowD)">
          <rect x={0} y={STO_TOP} width={PLOT_R} height={STO_BOT - STO_TOP} fill="url(#redFill)" clipPath="url(#aboveK)" />
        </g>
        <path d={sLine(dPts) || ''} fill="none" stroke="#ff5a5a" strokeWidth={1} strokeDasharray="3,2" />
        <path d={sLine(kPts) || ''} fill="none" stroke="#ffffff" strokeWidth={1.3} />
      </g>
      <rect x={1} y={724} width={24} height={15} fill="#a9a9a9" />
      <text x={3} y={736} fontSize={13} fontWeight="bold" fill="#ffffff">%K</text>
      <rect x={26} y={724} width={77} height={15} fill="#cfcfcf" />
      <text x={28} y={736} fontSize={13} fontWeight="bold" fill="#e06464">%D (14 3 5)</text>

      {/* panel borders */}
      <rect x={0.5} y={MAIN_TOP + 0.5} width={PLOT_R} height={MAIN_BOT - MAIN_TOP - 1} fill="none" stroke="#8c948c" strokeWidth={1} />
      <rect x={0.5} y={STO_TOP + 0.5} width={PLOT_R} height={STO_BOT - STO_TOP - 0.5} fill="none" stroke="#8c948c" strokeWidth={1} />

      {/* right axis */}
      {PRICE_TICKS.map((p) => (
        <g key={'pt' + p}>
          <line x1={PLOT_R + 1} x2={PLOT_R + 6} y1={Math.round(y(p)) + 0.5} y2={Math.round(y(p)) + 0.5} stroke="#7fcf7f" />
          <text x={1133} y={y(p) + 5} fontSize={14} fontWeight="bold" fill="#ffffff" clipPath={p === 2.1 ? 'url(#tickClip21)' : undefined}>{fmtTick(p)}</text>
        </g>
      ))}
      {[100, 0].map((v) => (
        <g key={'st' + v}>
          <line x1={PLOT_R + 1} x2={PLOT_R + 6} y1={Math.round(ys(v)) + 0.5} y2={Math.round(ys(v)) + 0.5} stroke="#7fcf7f" />
          <text x={1133} y={ys(v) + (v === 0 ? 3 : 9)} fontSize={14} fontWeight="bold" fill="#ffffff">{v}</text>
        </g>
      ))}
      {LAST_PRICE_LABELS.map((l) => (
        <g key={l.text}>
          <line x1={PLOT_R + 1} x2={PLOT_R + 5} y1={y(l.value)} y2={y(l.value)} stroke={l.bg === '#1a1a1a' ? l.color : '#ffd21a'} />
          <rect x={1131.5} y={y(l.value) - 8.5} width={l.w} height={17} fill={l.bg} stroke="#8a8a8a" strokeWidth={1} />
          <text x={1133.5} y={y(l.value) + 5} fontSize={14} fontWeight="bold" fill={l.color}>{l.text}</text>
        </g>
      ))}
      {LAST_STOCH_LABELS.map((l) => (
        <g key={l.text}>
          <line x1={PLOT_R + 1} x2={PLOT_R + 5} y1={ys(l.value)} y2={ys(l.value)} stroke={l.color} />
          <rect x={1131.5} y={ys(l.value) - 8.5} width={l.w} height={17} fill={l.bg} stroke="#8a8a8a" strokeWidth={1} />
          <text x={1133.5} y={ys(l.value) + 5} fontSize={14} fontWeight="bold" fill={l.color}>{l.text}</text>
        </g>
      ))}

      {/* bottom axis */}
      {monthTicks.map((t) => (
        <g key={'mt' + t.i}>
          <line x1={Math.round(x(t.i)) + 0.5} x2={Math.round(x(t.i)) + 0.5} y1={STO_BOT} y2={STO_BOT + 4} stroke="#7fcf7f" />
          <text x={x(t.i)} y={835} textAnchor="middle" fontSize={15} fontWeight="bold" fill="#ffffff">{t.label}</text>
        </g>
      ))}

      {/* header */}
      <rect x={0} y={0} width={W} height={20} fill="url(#hdr)" />
      <line x1={0} x2={W} y1={19.5} y2={19.5} stroke="#b8c0c8" />
      <rect x={3} y={8} width={5} height={8} fill="#e83030" stroke="#555" strokeWidth={0.6} />
      <line x1={5.5} x2={5.5} y1={5} y2={18} stroke="#555" strokeWidth={0.6} />
      <rect x={11} y={4} width={5} height={10} fill="#22cc22" stroke="#555" strokeWidth={0.6} />
      <line x1={13.5} x2={13.5} y1={1} y2={16} stroke="#555" strokeWidth={0.6} />
      <g fontSize={13.5} fontWeight="bold" fill="#000">
        {HEADER_TEXTS.map((h) => (
          <text key={h.text} x={h.x} y={15} textLength={h.w} lengthAdjust="spacing">{h.text}</text>
        ))}
        <text x={1039} y={15} textLength={158} lengthAdjust="spacing">www.ProRealTime.com</text>
      </g>

      {/* legend */}
      {LEGEND_ITEMS.map((l) => (
        <rect key={'lb' + l.text} x={l.bx} y={20} width={l.bw} height={17} fill="url(#legBg)" stroke="#f4f4f4" strokeWidth={1} />
      ))}
      <g fontSize={13.5} fontWeight="bold">
        {LEGEND_ITEMS.map((l) => (
          <text key={'lt' + l.text} x={l.x} y={33} fill={l.color} textLength={l.w} lengthAdjust="spacing">{l.text}</text>
        ))}
      </g>
    </svg>
  );
}
